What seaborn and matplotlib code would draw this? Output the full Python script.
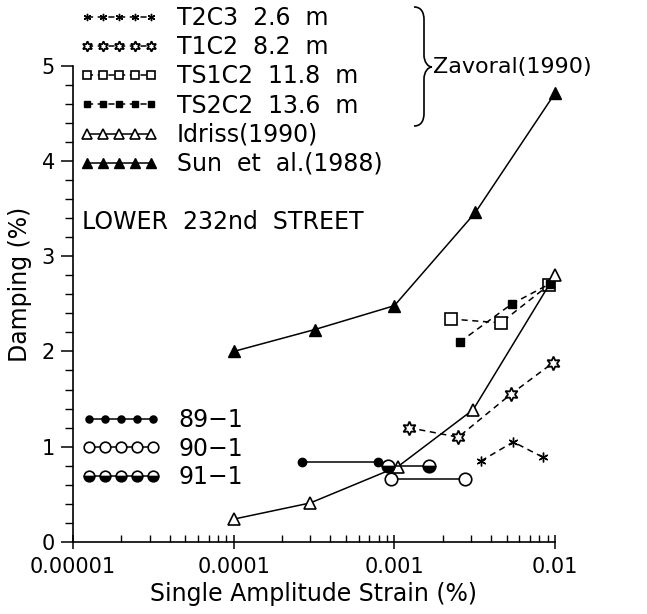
import numpy as np
import pandas as pd
import matplotlib
matplotlib.use("Agg")
import matplotlib.pyplot as plt
import seaborn as sns
from matplotlib.path import Path
from matplotlib.patches import PathPatch
from matplotlib.ticker import MultipleLocator, LogLocator, NullFormatter

# ---------------- data ----------------
t2c3_x = [3.46e-3, 5.5e-3, 8.4e-3]
t2c3_y = [0.85, 1.05, 0.89]
t1c2_x = [1.23e-3, 2.5e-3, 5.3e-3, 9.7e-3]
t1c2_y = [1.20, 1.10, 1.55, 1.88]
ts1c2_x = [2.25e-3, 4.6e-3, 9.2e-3]
ts1c2_y = [2.34, 2.30, 2.70]
ts2c2_x = [2.56e-3, 5.4e-3, 9.3e-3]
ts2c2_y = [2.10, 2.50, 2.71]
idriss_x = [1e-4, 3e-4, 1.05e-3, 3.1e-3, 1e-2]
idriss_y = [0.24, 0.41, 0.79, 1.39, 2.80]
sun_x = [1e-4, 3.2e-4, 1e-3, 3.2e-3, 1e-2]
sun_y = [2.00, 2.23, 2.48, 3.46, 4.71]
s891_x = [2.66e-4, 7.9e-4]
s891_y = [0.84, 0.84]
s901_x = [9.5e-4, 2.75e-3]
s901_y = [0.66, 0.66]
s911_x = [9.1e-4, 1.64e-3]
s911_y = [0.80, 0.80]

labels_top = ["T2C3  2.6  m", "T1C2  8.2  m", "TS1C2  11.8  m", "TS2C2  13.6  m",
              "Idriss(1990)", "Sun  et  al.(1988)"]
labels_bot = ["89\u22121", "90\u22121", "91\u22121"]
xtick_vals = [1e-5, 1e-4, 1e-3, 1e-2]
xtick_labels = ["0.00001", "0.0001", "0.001", "0.01"]
ytick_vals = [0, 1, 2, 3, 4, 5]

dash = (0, (4, 3))
series = [
    (t2c3_x, t2c3_y, labels_top[0], dict(marker=(6, 2, 0), linestyle=dash, ms=7, mew=1.0)),
    (t1c2_x, t1c2_y, labels_top[1], dict(marker=(6, 1, 0), linestyle=dash, ms=10, mfc="white", mew=1.3)),
    (ts1c2_x, ts1c2_y, labels_top[2], dict(marker="s", linestyle=dash, ms=8, mfc="white", mew=1.2)),
    (ts2c2_x, ts2c2_y, labels_top[3], dict(marker="s", linestyle=dash, ms=6, mfc="black", mew=1.0)),
    (idriss_x, idriss_y, labels_top[4], dict(marker="^", linestyle="-", ms=9, mfc="white", mew=1.2)),
    (sun_x, sun_y, labels_top[5], dict(marker="^", linestyle="-", ms=9, mfc="black", mew=1.0)),
    (s891_x, s891_y, labels_bot[0], dict(marker="o", linestyle="-", ms=6, mfc="black", mew=1.0)),
    (s901_x, s901_y, labels_bot[1], dict(marker="o", linestyle="-", ms=9, mfc="white", mew=1.2)),
    (s911_x, s911_y, labels_bot[2], dict(marker="o", linestyle="-", ms=9, mfc="black", mew=1.2,
                                         fillstyle="bottom", markerfacecoloralt="white")),
]

sns.set_style("ticks")
plt.rcParams["font.family"] = ["DejaVu Sans"]
for k in ["text.color", "axes.labelcolor", "xtick.color", "ytick.color", "axes.edgecolor"]:
    plt.rcParams[k] = "black"

fig = plt.figure(figsize=(6.47, 6.14), dpi=100)
ax = fig.add_axes([73 / 647, 1 - 542 / 614, (555 - 73) / 647, (542 - 65.6) / 614])

for xs, ys, lab, st in series:
    df = pd.DataFrame({"x": xs, "y": ys})
    st = dict(st)
    ms = st.pop("ms")
    mew = st.pop("mew")
    sns.lineplot(data=df, x="x", y="y", ax=ax, color="black", label=lab,
                 markersize=ms, markeredgewidth=mew, markeredgecolor="black",
                 linewidth=1.1, clip_on=False, sort=False, **st)

ax.set_xscale("log")
ax.set_xlim(1e-5, 1e-2)
ax.set_ylim(0, 5)
ax.set_xticks(xtick_vals)
ax.set_xticklabels(xtick_labels)
ax.xaxis.set_minor_locator(LogLocator(base=10, subs=np.arange(2, 10)))
ax.xaxis.set_minor_formatter(NullFormatter())
ax.set_yticks(ytick_vals)
ax.yaxis.set_minor_locator(MultipleLocator(0.2))

ax.tick_params(axis="x", which="major", direction="inout", length=10, width=1.1, labelsize=15, pad=6)
ax.tick_params(axis="x", which="minor", direction="in", length=5, width=1.0)
ax.tick_params(axis="y", which="major", direction="out", length=9, width=1.1, labelsize=15, pad=4)
ax.tick_params(axis="y", which="minor", direction="out", length=6, width=1.0)
for s in ["top", "right"]:
    ax.spines[s].set_visible(False)
for s in ["left", "bottom"]:
    ax.spines[s].set_linewidth(1.2)

ax.set_xlabel("Single Amplitude Strain (%)", fontsize=17)
ax.set_ylabel("Damping (%)", fontsize=17)
ax.xaxis.set_label_coords(0.5, -0.085)
ax.yaxis.set_label_coords(-0.085, 0.54)

handles, labs = ax.get_legend_handles_labels()
ax.get_legend().remove()
leg1 = fig.legend(handles[:6], labs[:6], loc="upper left",
                  bbox_to_anchor=(80 / 647, 1 - 6 / 614), frameon=False,
                  numpoints=5, handlelength=3.3, handletextpad=0.8, markerscale=0.75,
                  labelspacing=0.22, borderpad=0, borderaxespad=0, fontsize=17)
leg2 = fig.legend(handles[6:], labs[6:], loc="upper left",
                  bbox_to_anchor=(82 / 647, 1 - 408 / 614), frameon=False,
                  numpoints=5, handlelength=3.3, handletextpad=0.8, markerscale=0.85,
                  labelspacing=0.2, borderpad=0, borderaxespad=0, fontsize=17)

fig.text(82 / 647, 1 - 222 / 614, "LOWER  232nd  STREET", fontsize=17, va="center", ha="left")
fig.text(433 / 647, 1 - 67 / 614, "Zavoral(1990)", fontsize=16, va="center", ha="left")

# curly brace (decoration) in pixel coordinates, y measured from top
H = 614
pts = [(414, 7), (421, 7), (424, 12), (424, 20), (424, 55), (424, 62), (428, 67), (432, 67),
       (428, 67), (424, 72), (424, 79), (424, 113), (424, 121), (421, 126), (414, 126)]
codes = [Path.MOVETO, Path.CURVE4, Path.CURVE4, Path.CURVE4, Path.LINETO,
         Path.CURVE4, Path.CURVE4, Path.CURVE4, Path.CURVE4, Path.CURVE4, Path.CURVE4,
         Path.LINETO, Path.CURVE4, Path.CURVE4, Path.CURVE4]
verts = [(x / 647, 1 - y / H) for x, y in pts]
brace = PathPatch(Path(verts, codes), transform=fig.transFigure, fill=False,
                  edgecolor="black", linewidth=1.2)
fig.patches.append(brace)

fig.savefig("out.png", dpi=100)
